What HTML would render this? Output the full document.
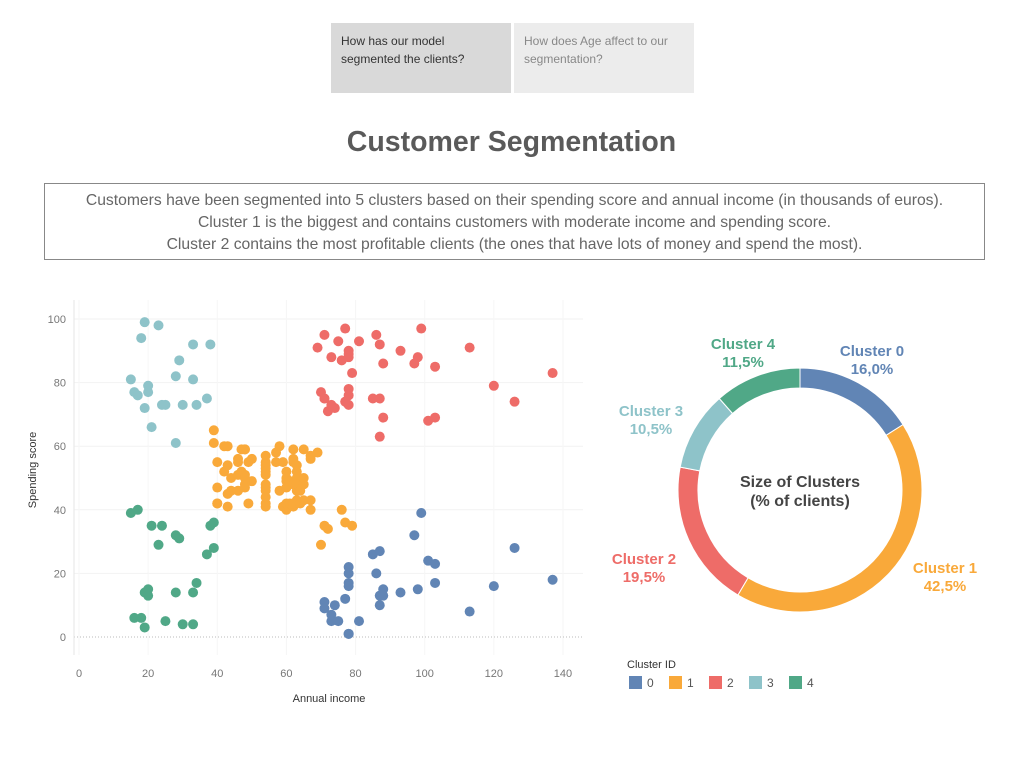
<!DOCTYPE html>
<html><head><meta charset="utf-8"><style>
body{margin:0;width:1023px;height:767px;background:#fff;font-family:"Liberation Sans",sans-serif;position:relative;overflow:hidden}
.tab{position:absolute;top:23px;height:70px;width:180px;font-size:12px;line-height:18px;padding:9px 10px;box-sizing:border-box}
#title{position:absolute;top:126px;left:0;width:1023px;text-align:center;font-size:28.5px;font-weight:600;color:#5a5a5a}
#desc{position:absolute;left:44px;top:183px;width:941px;height:77px;border:1px solid #888;box-sizing:border-box;text-align:center;font-size:15.7px;line-height:22px;color:#666;padding-top:6px}
svg text{font-family:"Liberation Sans",sans-serif}
</style></head><body>
<div class="tab" style="left:331px;background:#d9d9d9;color:#333">How has our model segmented the clients?</div>
<div class="tab" style="left:514px;background:#ececec;color:#888">How does Age affect to our segmentation?</div>
<div id="title">Customer Segmentation</div>
<div id="desc">Customers have been segmented into 5 clusters based on their spending score and annual income (in thousands of euros).<br>Cluster 1 is the biggest and contains customers with moderate income and spending score.<br>Cluster 2 contains the most profitable clients (the ones that have lots of money and spend the most).</div>
<svg id="chart" width="1023" height="767" style="position:absolute;left:0;top:0"></svg>
<script>
const income=[15,15,16,16,17,17,18,18,19,19,19,19,20,20,20,20,21,21,23,23,24,24,25,25,28,28,28,28,29,29,30,30,33,33,33,33,34,34,37,37,38,38,39,39,39,39,40,40,40,40,42,42,43,43,43,43,44,44,46,46,46,46,47,47,48,48,48,48,48,48,49,49,50,50,54,54,54,54,54,54,54,54,54,54,54,54,57,57,58,58,59,59,60,60,60,60,60,60,61,61,62,62,62,62,62,62,63,63,63,63,63,63,64,64,65,65,65,65,67,67,67,67,69,69,70,70,71,71,71,71,71,71,72,72,73,73,73,73,74,74,75,75,76,76,77,77,77,77,78,78,78,78,78,78,78,78,78,78,78,78,79,79,81,81,85,85,86,86,87,87,87,87,87,87,88,88,88,88,93,93,97,97,98,98,99,99,101,101,103,103,103,103,113,113,120,120,126,126,137,137];
const score=[39,81,6,77,40,76,6,94,3,72,14,99,15,77,13,79,35,66,29,98,35,73,5,73,14,82,32,61,31,87,4,73,4,92,14,81,17,73,26,75,35,92,36,61,28,65,55,47,42,42,52,60,54,60,45,41,50,46,51,46,56,55,52,59,51,59,50,48,59,47,55,42,49,56,47,54,53,48,52,42,51,55,41,44,57,46,58,55,60,46,55,41,49,40,42,52,47,50,42,49,41,48,59,55,56,42,50,46,43,48,52,54,42,46,48,50,43,59,43,57,56,40,58,91,29,77,35,95,11,75,9,75,34,71,5,88,7,73,10,72,5,93,40,87,12,97,36,74,22,90,17,88,20,76,16,89,1,78,1,73,35,83,5,93,26,75,20,95,27,63,13,75,10,92,13,86,15,69,14,90,32,86,15,88,39,97,24,68,17,85,23,69,8,91,16,79,28,74,18,83];
const cluster=("434343434343434343434343434343434343434343"+"4141"+"1".repeat(77)+"21212"+"020212020202021202120202020202021202"+"02".repeat(19)).split("").map(Number);
const clusterIds=[0,1,2,3,4];
const clusterShare=[16.0,42.5,19.5,10.5,11.5];
const xTicks=[0,20,40,60,80,100,120,140];
const yTicks=[0,20,40,60,80,100];
const colors=["#6185b5","#f9a93a","#ee6c68","#8ec3c9","#50a887"];
const NS="http://www.w3.org/2000/svg",svg=document.getElementById("chart");
function mk(t,a,p){const e=document.createElementNS(NS,t);for(const k in a)e.setAttribute(k,a[k]);(p||svg).appendChild(e);return e;}
const xs=v=>79+v*3.457, ys=v=>637-v*3.18;
const sc=mk("g",{});


yTicks.forEach(t=>{
 if(t>0){const l=mk("line",{x1:74,x2:583,y1:ys(t),y2:ys(t),stroke:"#f2f2f2"},sc);
 
 }
 const tx=mk("text",{x:66,y:ys(t)+4,"text-anchor":"end","font-size":11,fill:"#777"},sc);tx.textContent=t;
 
 
});
xTicks.forEach(t=>{
 const l=mk("line",{x1:xs(t),x2:xs(t),y1:300,y2:655,stroke:"#f6f6f6"},sc);
 
 
 const tx=mk("text",{x:xs(t),y:677,"text-anchor":"middle","font-size":11,fill:"#777"},sc);tx.textContent=t;
 
 
});
const z=mk("line",{x1:74,x2:583,y1:ys(0),y2:ys(0),stroke:"#bbb","stroke-dasharray":"1,2"},sc);


const ax=mk("line",{x1:74,x2:74,y1:300,y2:655,stroke:"#e6e6e6"},sc);


let xt=mk("text",{x:329,y:702,"text-anchor":"middle","font-size":11,fill:"#333"},sc);xt.textContent="Annual income";


let yt=mk("text",{x:36,y:470,"text-anchor":"middle","font-size":11,fill:"#333",transform:"rotate(-90 36 470)"},sc);yt.textContent="Spending score";


income.forEach((v,i)=>{
 const c=mk("circle",{cx:xs(v),cy:ys(score[i]),r:5,fill:colors[cluster[i]]},sc);
 
 
});
const cx=800,cy=490,R=122,r=102;
let a0=0;
const labelPos=[[872,356],[945,573],[644,564],[651,416],[743,349]];
clusterIds.forEach((id,i)=>{
 const a1=a0+clusterShare[i]/100*2*Math.PI;
 const p=(a,rr)=>[cx+rr*Math.sin(a),cy-rr*Math.cos(a)];
 const large=(a1-a0)>Math.PI?1:0;
 const [x1,y1]=p(a0,R),[x2,y2]=p(a1,R),[x3,y3]=p(a1,r),[x4,y4]=p(a0,r);
 const s=mk("path",{d:`M${x1},${y1}A${R},${R} 0 ${large} 1 ${x2},${y2}L${x3},${y3}A${r},${r} 0 ${large} 0 ${x4},${y4}Z`,fill:colors[id],stroke:"#fff","stroke-width":1});
 
 
 const t=mk("text",{x:labelPos[i][0],y:labelPos[i][1],"text-anchor":"middle","font-size":15,"font-weight":"bold",fill:colors[id]});
 t.innerHTML=`<tspan x="${labelPos[i][0]}">Cluster ${id}</tspan><tspan x="${labelPos[i][0]}" dy="18">${clusterShare[i].toFixed(1).replace('.',',')}%</tspan>`;
 
 
 a0=a1;
});
const ct=mk("text",{x:cx,y:487,"text-anchor":"middle","font-size":16,"font-weight":"bold",fill:"#444"});
ct.innerHTML=`<tspan x="${cx}">Size of Clusters</tspan><tspan x="${cx}" dy="19">(% of clients)</tspan>`;


const lt=mk("text",{x:627,y:668,"font-size":11,fill:"#333"});lt.textContent="Cluster ID";


clusterIds.forEach((id,i)=>{
 const g=mk("g",{});
 
 
 const x=629+i*40;
 mk("rect",{x:x,y:676,width:13,height:13,fill:colors[id]},g);
 const t=mk("text",{x:x+18,y:687,"font-size":12,fill:"#555"},g);t.textContent=id;
});
</script>
</body></html>
